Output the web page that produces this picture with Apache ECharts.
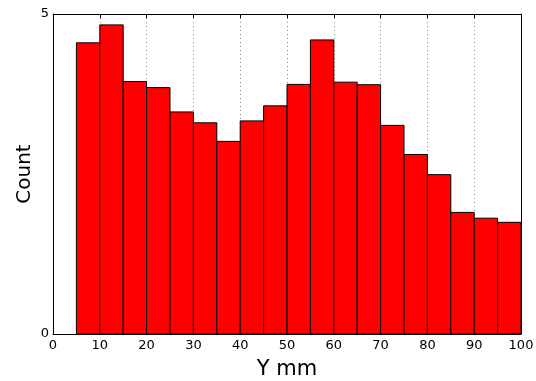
<!DOCTYPE html>
<html>
<head>
<meta charset="utf-8">
<script src="https://cdn.jsdelivr.net/npm/echarts@6/dist/echarts.min.js"></script>
<style>
  html, body { margin: 0; padding: 0; background: #fff; }
  #chart { width: 536px; height: 381px; }
</style>
</head>
<body>
<div id="chart"></div>
<script>
// Histogram bin edges (mm) and counts per bin
const binStarts = [5, 10, 15, 20, 25, 30, 35, 40, 45, 50, 55, 60, 65, 70, 75, 80, 85, 90, 95];
const binWidth = 5;
const counts = [4.55, 4.83, 3.945, 3.85, 3.47, 3.30, 3.01, 3.33, 3.565, 3.90, 4.595, 3.935, 3.895, 3.26, 2.805, 2.49, 1.90, 1.81, 1.745];
const xTicks = [0, 10, 20, 30, 40, 50, 60, 70, 80, 90, 100];
const yTicks = [0, 5];

const histData = binStarts.map((s, i) => [s, s + binWidth, counts[i]]);

const FONT = 'DejaVu Sans';
const chart = echarts.init(document.getElementById('chart'), null, { renderer: 'canvas' });

const frameLine = { show: true, onZero: false, lineStyle: { color: '#000', width: 1 } };
const tickIn = { show: true, inside: true, length: 4, lineStyle: { color: '#000' } };

chart.setOption({
  animation: false,
  backgroundColor: '#fff',
  grid: { left: 53, right: 15, top: 14, bottom: 47, containLabel: false, outerBoundsMode: 'none' },
  xAxis: [
    {
      type: 'value', min: xTicks[0], max: xTicks[xTicks.length - 1], interval: 10,
      name: 'Y mm', nameLocation: 'middle', nameGap: 25, nameMoveOverlap: false,
      nameTextStyle: { fontFamily: FONT, fontSize: 21, color: '#000' },
      axisLine: frameLine, axisTick: tickIn,
      axisLabel: { fontFamily: FONT, fontSize: 13, color: '#000', margin: 5 },
      splitLine: { show: true, lineStyle: { color: '#888', type: [1, 3], width: 1 } }
    },
    {
      type: 'value', position: 'top', min: 0, max: 100, interval: 10,
      axisLine: frameLine, axisTick: tickIn, axisLabel: { show: false }, splitLine: { show: false }
    }
  ],
  yAxis: [
    {
      type: 'value', min: yTicks[0], max: yTicks[yTicks.length - 1], interval: 5,
      name: 'Count', nameLocation: 'middle', nameGap: 18, nameMoveOverlap: false,
      nameTextStyle: { fontFamily: FONT, fontSize: 20, color: '#000' },
      axisLine: frameLine, axisTick: tickIn,
      axisLabel: { fontFamily: FONT, fontSize: 13, color: '#000', margin: 4 },
      splitLine: { show: false }
    },
    {
      type: 'value', position: 'right', min: 0, max: 5, interval: 5,
      axisLine: frameLine, axisTick: tickIn, axisLabel: { show: false }, splitLine: { show: false }
    }
  ],
  series: [{
    type: 'custom',
    xAxisIndex: 0, yAxisIndex: 0,
    data: histData,
    renderItem: function (params, api) {
      const p0 = api.coord([api.value(0), api.value(2)]);
      const p1 = api.coord([api.value(1), 0]);
      return {
        type: 'rect',
        shape: { x: p0[0], y: p0[1], width: p1[0] - p0[0], height: p1[1] - p0[1] },
        style: { fill: '#ff0000', stroke: '#000', lineWidth: 1 }
      };
    }
  }]
});
</script>
</body>
</html>
